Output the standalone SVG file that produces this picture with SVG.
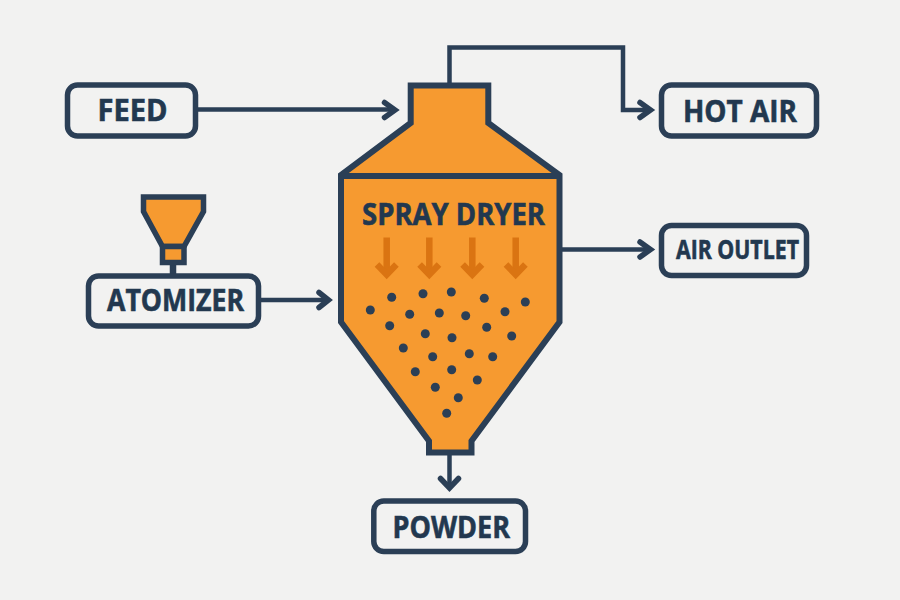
<svg xmlns="http://www.w3.org/2000/svg" width="900" height="600" viewBox="0 0 900 600">
<defs>
<style>
.box{fill:#f2f2f1;stroke:#2b3f56;stroke-width:5.5}
.lbl{font-family:"Open Sans","Liberation Sans",sans-serif;font-weight:700;fill:#22384f;stroke:#22384f;stroke-width:0.6}
.ln{fill:none;stroke:#2b3f56;stroke-width:4.5}
.hd{fill:none;stroke:#2b3f56;stroke-width:5.5;stroke-linecap:round;stroke-linejoin:miter}
.body{fill:#f69a30;stroke:#2b3f56;stroke-width:6;stroke-linejoin:miter}
.oa{fill:none;stroke:#da7412;stroke-width:6.5}
.dot{fill:#2b3f56}
</style>
</defs>
<rect width="900" height="600" fill="#f2f2f1"/>
<g id="connectors">
<path class="ln" d="M198 109.500H394"/><path class="hd" d="M384.500 102.500L395 110L384.500 117.500"/>
<path class="ln" d="M449.500 84V47.500H623V110H650"/><path class="hd" d="M640 102.500L650.500 110L640 117.500"/>
<path class="ln" d="M562 249.500H650"/><path class="hd" d="M640 242L650.500 249.500L640 257"/>
<path class="ln" d="M261 300H328"/><path class="hd" d="M319 292.500L328.500 300L319 307.500"/>
<path class="ln" d="M449.500 454V488"/><path class="hd" d="M440.500 478.500L449.500 488L458.500 478.500"/>
<path class="ln" style="stroke-width:6.500" d="M173 264V274"/>
</g>
<g id="feed"><rect class="box" x="67.500" y="85" width="128" height="51" rx="10"/><text class="lbl" x="97.500" y="121" font-size="30.500" textLength="70" lengthAdjust="spacingAndGlyphs">FEED</text></g>
<g id="hot-air"><rect class="box" x="661.500" y="85" width="155" height="51" rx="10"/><text class="lbl" x="683" y="121.500" font-size="31" textLength="114" lengthAdjust="spacingAndGlyphs">HOT AIR</text></g>
<g id="air-outlet"><rect class="box" x="661.500" y="225.500" width="145" height="50" rx="10"/><text class="lbl" x="676" y="259" font-size="26" textLength="123" lengthAdjust="spacingAndGlyphs">AIR OUTLET</text></g>
<g id="atomizer"><rect class="box" x="88.500" y="276" width="170" height="50" rx="10"/><text class="lbl" x="107" y="311" font-size="29.500" textLength="137" lengthAdjust="spacingAndGlyphs">ATOMIZER</text>
<path class="body" style="stroke-width:5.500" d="M143.500 197H203.500V211.500L184 246.500H162.500L143.500 211.500Z"/><rect class="body" style="stroke-width:5.500" x="162.500" y="246.500" width="21.500" height="16"/></g>
<g id="powder"><rect class="box" x="373.800" y="501" width="151.700" height="50.500" rx="10"/><text class="lbl" x="392.500" y="537.500" font-size="31" textLength="117.500" lengthAdjust="spacingAndGlyphs">POWDER</text></g>
<g id="spray-dryer">
<path class="body" d="M410.700 85.500H488.300V123L559.500 175V322L471.500 441V452.500H429V441L341 322V175L410.700 123Z"/>
<path class="ln" style="stroke-width:6" d="M341 176H559.500"/>
<text class="lbl" x="362" y="225" font-size="31" textLength="183" lengthAdjust="spacingAndGlyphs">SPRAY DRYER</text>
<g id="spray-arrows">
<path class="oa" d="M386.700 237.500V273M429.300 237.500V273M472.300 237.500V273M515.700 237.500V273"/>
<path class="oa" d="M377 264.500L386.700 274.500L396.400 264.500M419.600 264.500L429.300 274.500L439 264.500M462.600 264.500L472.300 274.500L482 264.500M506 264.500L515.700 274.500L525.400 264.500"/>
</g>
<g id="particles" class="dot">
<circle cx="370.300" cy="310" r="4.500"/><circle cx="391.700" cy="297.300" r="4.500"/><circle cx="423" cy="293.700" r="4.500"/><circle cx="451.300" cy="292" r="4.500"/><circle cx="484.300" cy="298.300" r="4.500"/><circle cx="525.300" cy="302" r="4.500"/><circle cx="505" cy="311.700" r="4.500"/><circle cx="465.700" cy="315.700" r="4.500"/><circle cx="439.300" cy="313" r="4.500"/><circle cx="409.700" cy="314.300" r="4.500"/><circle cx="389.700" cy="325.700" r="4.500"/><circle cx="425.300" cy="333.700" r="4.500"/><circle cx="452" cy="337.700" r="4.500"/><circle cx="486.700" cy="327.300" r="4.500"/><circle cx="511.700" cy="336" r="4.500"/><circle cx="403.300" cy="348" r="4.500"/><circle cx="432.700" cy="356.700" r="4.500"/><circle cx="469.300" cy="353.700" r="4.500"/><circle cx="492.700" cy="356.700" r="4.500"/><circle cx="415.300" cy="371.700" r="4.500"/><circle cx="451.700" cy="369.700" r="4.500"/><circle cx="477.300" cy="380" r="4.500"/><circle cx="435.300" cy="387.300" r="4.500"/><circle cx="458.300" cy="397.700" r="4.500"/><circle cx="446.700" cy="413.300" r="4.500"/>
</g>
</g>
</svg>
